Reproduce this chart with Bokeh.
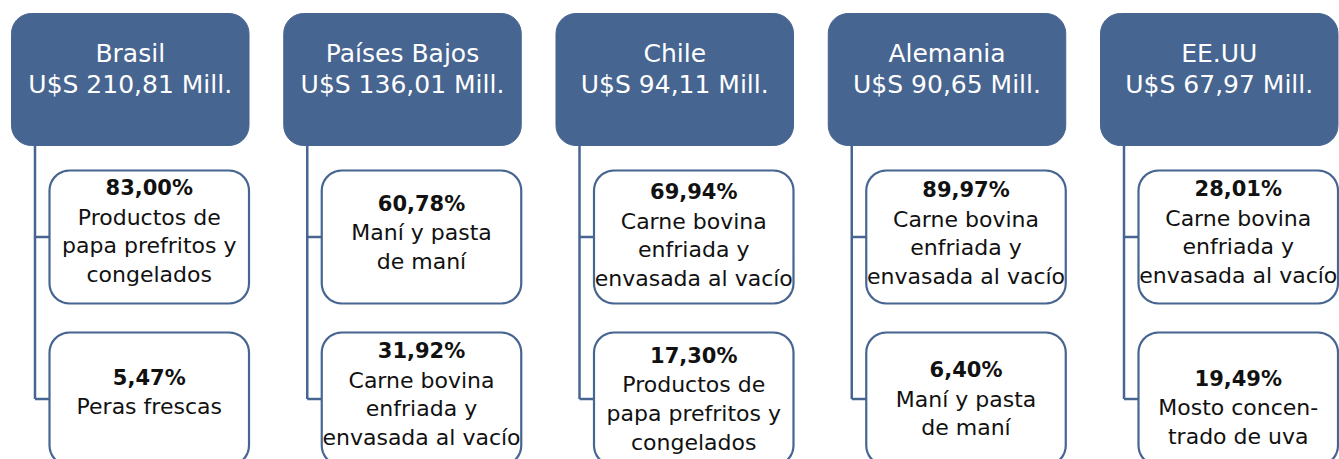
import numpy as np
from bokeh.plotting import figure
from bokeh.models import Range1d
from bokeh.core.properties import value
from bokeh.embed import file_html
from bokeh.resources import INLINE

# ---------------- data ----------------
countries = ["Brasil", "Países Bajos", "Chile", "Alemania", "EE.UU"]
totals = [210.81, 136.01, 94.11, 90.65, 67.97]  # U$S millones
share1 = [83.00, 60.78, 69.94, 89.97, 28.01]
product1 = [
    "Productos de\npapa prefritos y\ncongelados",
    "Maní y pasta\nde maní",
    "Carne bovina\nenfriada y\nenvasada al vacío",
    "Carne bovina\nenfriada y\nenvasada al vacío",
    "Carne bovina\nenfriada y\nenvasada al vacío",
]
share2 = [5.47, 31.92, 17.30, 6.40, 19.49]
product2 = [
    "Peras frescas",
    "Carne bovina\nenfriada y\nenvasada al vacío",
    "Productos de\npapa prefritos y\ncongelados",
    "Maní y pasta\nde maní",
    "Mosto concen-\ntrado de uva",
]

# ---------------- style / layout ----------------
BLUE = "#476591"
FONT = "DejaVu Sans"
HDR_SIZE = "25px"
TXT_SIZE = "22px"
PCT_SIZE = "21px"
PITCH = 272.25
X0 = 11
HDR_W, HDR_TOP, HDR_BOT = 237.5, 13, 145
HDR_LINES = (53, 84)
CH_DX, CH_W = 38, 199.5
CH1 = (170, 303)
CH2 = (332, 465)
LINE_DX = 23.5
RAD = 20
LSP = 28.7
OFF1 = [-5.5, -4.5, -1.5, -3.5, -4.5]
OFF2 = [-6.5, -4.5, 0, 0, 8.5]


def fmt_pct(v):
    return f"{v:.2f}".replace(".", ",") + "%"


def fmt_total(v):
    return "U$S " + f"{v:.2f}".replace(".", ",") + " Mill."


def rrect(x0, y0, x1, y1, r, n=10):
    xs, ys = [], []
    corners = [
        (x0 + r, y0 + r, 180, 270),
        (x1 - r, y0 + r, 270, 360),
        (x1 - r, y1 - r, 0, 90),
        (x0 + r, y1 - r, 90, 180),
    ]
    for cx, cy, a0, a1 in corners:
        t = np.radians(np.linspace(a0, a1, n))
        xs.extend(cx + r * np.cos(t))
        ys.extend(cy + r * np.sin(t))
    return list(xs), list(ys)


p = figure(width=1339, height=459, x_range=Range1d(0, 1339), y_range=Range1d(459, 0),
           output_backend="svg", toolbar_location=None, min_border=0,
           background_fill_color="white", border_fill_color="white")
p.axis.visible = False
p.grid.visible = False
p.outline_line_color = None

hx, hy, cxs, cys = [], [], [], []
lxs, lys = [], []
hdr_t, hdr_x, hdr_y = [], [], []
b_t, b_x, b_y = [], [], []
r_t, r_x, r_y = [], [], []

for i, c in enumerate(countries):
    x0 = X0 + PITCH * i
    xs, ys = rrect(x0, HDR_TOP, x0 + HDR_W, HDR_BOT, RAD)
    hx.append(xs); hy.append(ys)
    cx0 = x0 + CH_DX
    for (t0, t1) in (CH1, CH2):
        xs, ys = rrect(cx0, t0, cx0 + CH_W, t1, RAD)
        cxs.append(xs); cys.append(ys)
    lx = x0 + LINE_DX
    m1 = (CH1[0] + CH1[1]) / 2
    m2 = (CH2[0] + CH2[1]) / 2
    lxs += [[lx, lx], [lx, cx0], [lx, cx0]]
    lys += [[HDR_BOT, m2], [m1, m1], [m2, m2]]

    mid = x0 + HDR_W / 2
    hdr_t += [c, fmt_total(totals[i])]
    hdr_x += [mid, mid]
    hdr_y += list(HDR_LINES)

    ccx = cx0 + CH_W / 2
    for (t0, t1), sh, prod, off in ((CH1, share1[i], product1[i], OFF1[i]),
                                   (CH2, share2[i], product2[i], OFF2[i])):
        lines = prod.split("\n")
        n = len(lines) + 1
        center = (t0 + t1) / 2 + off
        ys_l = [center + (k - (n - 1) / 2) * LSP for k in range(n)]
        b_t.append(fmt_pct(sh)); b_x.append(ccx); b_y.append(ys_l[0])
        for k, ln in enumerate(lines):
            r_t.append(ln); r_x.append(ccx); r_y.append(ys_l[k + 1])

p.multi_line(lxs, lys, line_color=BLUE, line_width=2.5)
p.patches(hx, hy, fill_color=BLUE, line_color=BLUE, line_width=1)
p.patches(cxs, cys, fill_color="white", line_color=BLUE, line_width=2.2)

p.text(x=hdr_x, y=hdr_y, text=hdr_t, text_color="white", text_font=value(FONT),
       text_font_size=HDR_SIZE, text_align="center", text_baseline="middle")
p.text(x=b_x, y=b_y, text=b_t, text_color="#111111", text_font=value(FONT),
       text_font_size=PCT_SIZE, text_font_style="bold", text_align="center",
       text_baseline="middle")
p.text(x=r_x, y=r_y, text=r_t, text_color="#111111", text_font=value(FONT),
       text_font_size=TXT_SIZE, text_align="center", text_baseline="middle")

open("out.html", "w").write(file_html(p, INLINE))
